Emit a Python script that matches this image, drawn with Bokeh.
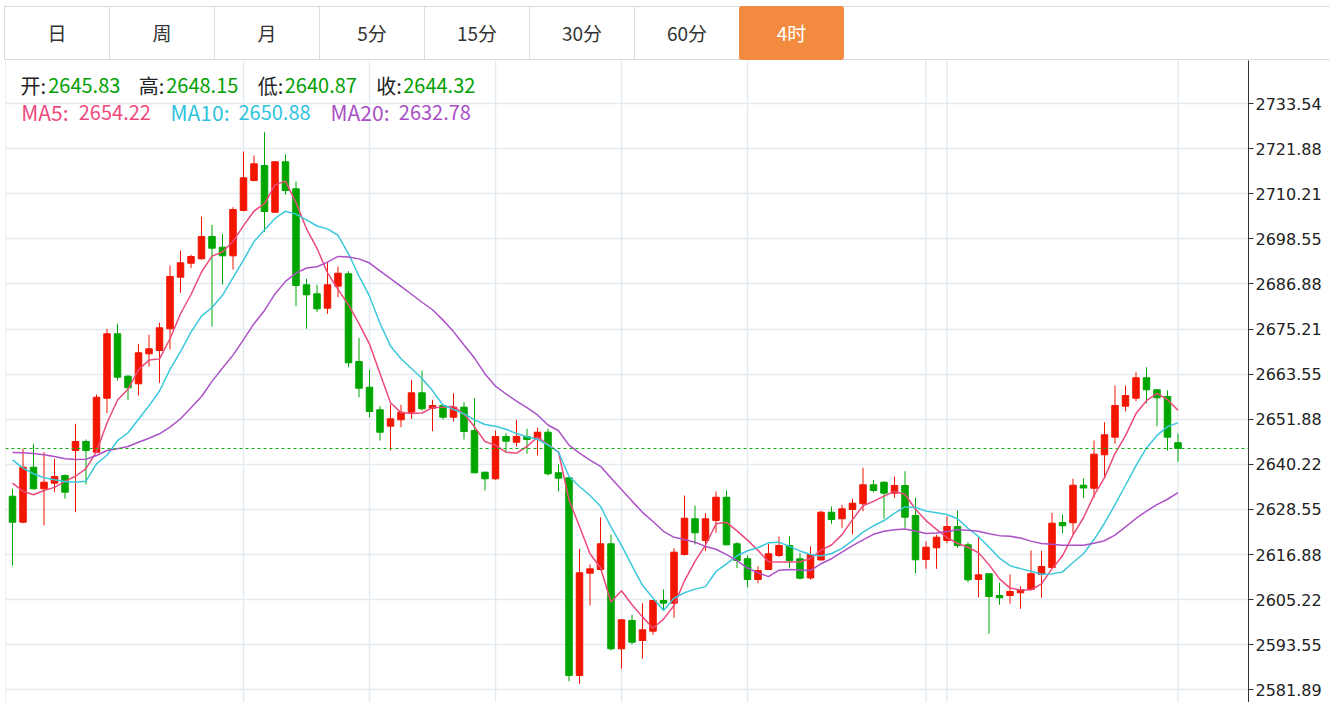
from bokeh.plotting import figure
from bokeh.models import Range1d, FixedTicker, NumeralTickFormatter, Span, Label, Div, ColumnDataSource
from bokeh.layouts import column
from bokeh.embed import file_html
from bokeh.resources import INLINE
import numpy as np

# ---------------- data ----------------
tabs = ["日", "周", "月", "5分", "15分", "30分", "60分", "4时"]
active_tab = "4时"

opens = [2631.98, 2625.26, 2639.48, 2633.90, 2635.35, 2637.34, 2643.80, 2646.13, 2643.36, 2657.33,
         2673.99, 2663.03, 2661.06, 2668.82, 2669.67, 2675.29, 2688.64, 2692.26, 2693.40, 2699.17,
         2696.40, 2694.17, 2705.89, 2713.65, 2717.53, 2705.45, 2718.49, 2711.51, 2686.67, 2684.34,
         2680.62, 2686.31, 2689.52, 2666.83, 2660.18, 2654.33, 2650.09, 2651.75, 2653.71, 2658.73,
         2654.75, 2655.45, 2652.42, 2655.01, 2648.98, 2638.19, 2636.48, 2647.43, 2645.95, 2647.43,
         2646.83, 2648.54, 2638.04, 2636.74, 2585.60, 2612.06, 2613.02, 2619.67, 2592.50, 2599.83,
         2594.65, 2597.06, 2605.00, 2604.30, 2616.90, 2626.14, 2620.52, 2625.70, 2631.72, 2619.67,
         2615.79, 2610.43, 2613.02, 2616.64, 2619.23, 2615.79, 2610.82, 2615.48, 2627.84, 2626.14,
         2628.54, 2630.02, 2634.93, 2635.60, 2632.76, 2634.75, 2626.99, 2615.61, 2618.63, 2620.52,
         2624.14, 2619.41, 2610.43, 2611.91, 2606.29, 2606.29, 2606.99, 2607.84, 2611.73, 2613.54,
         2625.18, 2625.10, 2634.83, 2634.05, 2642.69, 2647.25, 2655.27, 2657.33, 2662.61, 2659.51,
         2657.77, 2645.83]
highs = [2633.90, 2644.24, 2645.54, 2643.36, 2641.66, 2637.60, 2650.71, 2646.65, 2658.29, 2675.29,
         2676.58, 2663.28, 2671.41, 2673.74, 2676.84, 2691.66, 2695.54, 2694.43, 2704.34, 2702.19,
         2699.86, 2706.75, 2721.16, 2720.12, 2726.15, 2718.60, 2720.38, 2713.39, 2688.22, 2686.67,
         2692.52, 2691.41, 2690.19, 2672.96, 2664.68, 2655.27, 2655.70, 2655.63, 2662.09, 2664.50,
         2656.92, 2655.63, 2658.63, 2656.30, 2657.33, 2638.30, 2648.98, 2648.28, 2651.75, 2649.42,
         2649.68, 2649.42, 2640.18, 2636.90, 2618.37, 2614.31, 2626.55, 2622.07, 2600.10, 2601.30,
         2604.30, 2605.10, 2607.84, 2618.53, 2632.16, 2629.58, 2627.58, 2633.20, 2633.46, 2620.08,
         2616.64, 2613.87, 2619.67, 2621.56, 2621.56, 2617.24, 2618.97, 2628.21, 2629.32, 2629.76,
         2631.31, 2639.33, 2636.22, 2635.78, 2637.08, 2638.45, 2631.57, 2620.26, 2622.00, 2626.81,
         2628.28, 2620.08, 2621.38, 2612.00, 2609.58, 2611.73, 2608.70, 2617.93, 2617.80, 2627.69,
         2627.25, 2636.48, 2636.56, 2646.39, 2651.13, 2660.62, 2660.62, 2664.06, 2665.35, 2659.60,
         2659.33, 2648.15]
lows = [2614.05, 2625.00, 2633.70, 2624.40, 2633.02, 2631.31, 2627.84, 2635.01, 2643.20, 2653.45,
        2661.91, 2656.92, 2658.03, 2665.54, 2661.32, 2669.93, 2684.60, 2690.97, 2693.20, 2675.88,
        2686.75, 2690.63, 2705.71, 2713.47, 2700.28, 2705.30, 2710.03, 2681.14, 2675.29, 2679.58,
        2679.17, 2683.46, 2665.35, 2657.59, 2652.42, 2646.39, 2643.80, 2649.83, 2652.01, 2654.15,
        2648.80, 2651.82, 2651.31, 2646.65, 2637.90, 2633.46, 2636.23, 2643.21, 2644.84, 2642.95,
        2642.51, 2637.34, 2633.28, 2584.12, 2583.45, 2603.71, 2612.76, 2592.06, 2587.33, 2593.62,
        2589.92, 2596.13, 2602.41, 2600.53, 2616.64, 2619.49, 2617.75, 2622.51, 2619.23, 2613.36,
        2608.44, 2609.48, 2612.90, 2616.20, 2613.46, 2610.43, 2610.38, 2615.35, 2624.84, 2623.81,
        2622.07, 2628.10, 2633.02, 2626.14, 2631.57, 2623.81, 2612.06, 2613.20, 2613.20, 2619.82,
        2618.63, 2609.73, 2605.85, 2596.38, 2603.89, 2604.15, 2602.85, 2607.58, 2605.70, 2613.20,
        2622.41, 2622.25, 2631.46, 2631.50, 2636.48, 2645.54, 2653.97, 2656.56, 2656.04, 2650.09,
        2643.80, 2640.87]
closes = [2625.26, 2639.48, 2633.90, 2635.60, 2637.08, 2633.02, 2646.13, 2643.80, 2657.59, 2673.99,
          2662.77, 2660.03, 2669.08, 2670.11, 2675.55, 2688.82, 2692.36, 2693.99, 2699.17, 2696.14,
          2694.17, 2706.15, 2714.35, 2717.97, 2705.63, 2718.49, 2711.07, 2686.49, 2684.08, 2680.46,
          2686.67, 2689.67, 2666.49, 2659.92, 2653.89, 2648.54, 2652.01, 2653.71, 2658.73, 2654.59,
          2655.45, 2652.42, 2655.01, 2648.72, 2638.04, 2636.48, 2647.43, 2646.21, 2647.43, 2646.65,
          2648.54, 2637.78, 2636.64, 2585.60, 2612.17, 2613.20, 2619.67, 2592.50, 2600.01, 2594.21,
          2597.42, 2605.00, 2604.30, 2617.50, 2626.29, 2622.51, 2626.14, 2631.72, 2619.41, 2615.35,
          2610.43, 2612.76, 2617.08, 2619.23, 2615.35, 2610.77, 2616.90, 2627.84, 2625.95, 2628.72,
          2630.17, 2634.93, 2633.46, 2632.76, 2634.75, 2626.55, 2615.53, 2618.79, 2621.38, 2624.14,
          2619.23, 2610.35, 2611.65, 2606.03, 2605.70, 2607.33, 2607.84, 2611.91, 2613.80, 2625.00,
          2624.32, 2634.83, 2634.10, 2642.85, 2647.87, 2655.45, 2658.03, 2662.61, 2659.51, 2657.44,
          2647.25, 2644.32]

# moving-average values at the start of the window (earlier bars not shown)
ma5_head = [2635.35, 2633.28, 2632.34, 2633.46]
ma10_head = [2641.40, 2639.23, 2637.78, 2636.74, 2636.22, 2635.79, 2635.60, 2635.86, 2640.36]
ma20_head = [2643.29, 2643.21, 2643.03, 2642.69, 2642.25, 2641.66, 2641.48, 2641.55, 2642.51, 2643.80,
             2644.24, 2644.84, 2645.95, 2646.99, 2648.13, 2649.83, 2652.01, 2654.85, 2657.77]

y_ticks = [2581.89, 2593.55, 2605.22, 2616.88, 2628.55, 2640.22, 2651.88, 2663.55,
           2675.21, 2686.88, 2698.55, 2710.21, 2721.88, 2733.54]
vgrid_bars = [22, 34, 46, 58, 70, 87, 89, 111]

ohlc_names = ["开", "高", "低", "收"]
ohlc_last = [2645.83, 2648.15, 2640.87, 2644.32]
ma_names = ["MA5", "MA10", "MA20"]
ma_last = [2654.22, 2650.88, 2632.78]
last_price = 2644.32

# ---------------- styles ----------------
RED = "#f21500"
GREEN = "#00a600"
MA_COLORS = ["#ec4a7b", "#3cc8dc", "#ac52c6"]
MA_TEXT = ["#ef4a7e", "#2fc3dc", "#aa4fc4"]
GRID = "#e3ebf2"
CJK = "Noto Sans CJK SC"

o = np.array(opens); h = np.array(highs); l = np.array(lows); c = np.array(closes)
n = len(c)
idx = np.arange(n)


def moving(vals, k, head):
    out = np.empty(n)
    out[:k - 1] = head
    for i in range(k - 1, n):
        out[i] = vals[i - k + 1:i + 1].mean()
    return out


ma5 = moving(c, 5, ma5_head)
ma10 = moving(c, 10, ma10_head)
ma20 = moving(c, 20, ma20_head)

# ---------------- tab bar ----------------
html = ['<div style="position:relative;width:1330px;height:60px;font-family:\'Noto Sans CJK SC\',sans-serif;">']
html.append('<div style="position:absolute;left:4px;top:6px;width:1326px;height:54px;box-sizing:border-box;'
            'border-top:1px solid #dcdcdc;border-bottom:1px solid #dcdcdc;border-left:1px solid #dcdcdc;"></div>')
for k, t in enumerate(tabs):
    left = 5 + 105 * k
    if t == active_tab:
        html.append(f'<div style="position:absolute;left:{left - 1}px;top:6px;width:105px;height:54px;'
                    f'line-height:54px;text-align:center;font-size:19px;color:#ffffff;background:#f28b40;'
                    f'border-radius:3px;">{t}</div>')
    else:
        html.append(f'<div style="position:absolute;left:{left}px;top:7px;width:105px;height:52px;'
                    f'line-height:52px;text-align:center;font-size:19px;color:#333333;box-sizing:border-box;'
                    f'border-right:1px solid #dcdcdc;">{t}</div>')
html.append('</div>')
tabbar = Div(text="".join(html), width=1330, height=60, margin=0)

# ---------------- chart ----------------
p = figure(width=1330, height=642, output_backend="svg", toolbar_location=None,
           x_range=Range1d(-0.667, 117.714), y_range=Range1d(2578.61, 2744.70),
           x_axis_location=None, y_axis_location="right",
           min_border_left=5, min_border_right=82, min_border_top=0, min_border_bottom=0,
           margin=0)
p.outline_line_color = None
p.background_fill_color = "white"
p.border_fill_color = "white"

yax = p.yaxis[0]
yax.ticker = FixedTicker(ticks=y_ticks)
yax.formatter = NumeralTickFormatter(format="0.00")
yax.major_label_text_font = "DejaVu Sans"
yax.major_label_text_font_size = "16px"
yax.major_label_text_color = "#222222"
yax.axis_line_color = "#333333"
yax.major_tick_line_color = "#333333"
yax.major_tick_out = 5
yax.major_tick_in = 0
yax.minor_tick_out = 0
yax.minor_tick_in = 0
yax.major_label_standoff = 2

p.ygrid.grid_line_color = GRID
p.ygrid.grid_line_width = 1.5
p.xgrid.grid_line_color = None

for b in vgrid_bars:
    p.add_layout(Span(location=b, dimension="height", line_color=GRID, line_width=1.5, level="underlay"))
p.add_layout(Span(location=-0.667, dimension="height", line_color="#dcdcdc", line_width=1, level="underlay"))

up = c >= o
for mask, col in ((up, RED), (~up, GREEN)):
    src = ColumnDataSource(dict(x=idx[mask], h=h[mask], l=l[mask],
                                top=np.maximum(o, c)[mask], bot=np.minimum(o, c)[mask]))
    p.segment(x0="x", y0="h", x1="x", y1="l", source=src, line_color=col, line_width=1)
    p.vbar(x="x", width=0.62, top="top", bottom="bot", source=src, fill_color=col, line_color=col, line_width=1)

for vals, col in ((ma5, MA_COLORS[0]), (ma10, MA_COLORS[1]), (ma20, MA_COLORS[2])):
    p.line(idx, vals, line_color=col, line_width=1.5)

p.add_layout(Span(location=last_price, dimension="width", line_color="#11b011", line_width=1, line_dash="3 3"))

# header: OHLC row
ohlc_label_x = [0.762, 12.03, 23.36, 34.64]
ohlc_value_x = [3.40, 14.64, 25.93, 37.21]
row1_y = 2738.23
for name, val, xl, xv in zip(ohlc_names, ohlc_last, ohlc_label_x, ohlc_value_x):
    p.add_layout(Label(x=xl, y=row1_y, text=name + ":", text_font=CJK, text_font_size="20px",
                       text_color="#222222", text_baseline="middle"))
    p.add_layout(Label(x=xv, y=row1_y, text=f"{val:.2f}", text_font=CJK, text_font_size="20px",
                       text_color="#03a003", text_baseline="middle"))

# header: MA row (name and value placed separately)
ma_name_x = [0.83, 15.05, 30.29]
ma_value_x = [6.31, 21.52, 36.79]
row2_y = 2731.37
for name, val, xn, xv, col in zip(ma_names, ma_last, ma_name_x, ma_value_x, MA_TEXT):
    p.add_layout(Label(x=xn, y=row2_y, text=f"{name}:", text_font=CJK, text_font_size="21px",
                       text_color=col, text_baseline="middle"))
    p.add_layout(Label(x=xv, y=row2_y, text=f"{val:.2f}", text_font=CJK, text_font_size="20px",
                       text_color=col, text_baseline="middle"))

# last price tag on the axis
p.add_layout(Label(x=118.857, y=last_price, text=f"{last_price:.2f}", text_font="DejaVu Sans",
                   text_font_size="16px", text_color="white", text_baseline="middle",
                   background_fill_color="#03a603", padding=(2, 9)))

layout = column(tabbar, p, spacing=0, margin=0)
open("out.html", "w").write(file_html(layout, INLINE))
